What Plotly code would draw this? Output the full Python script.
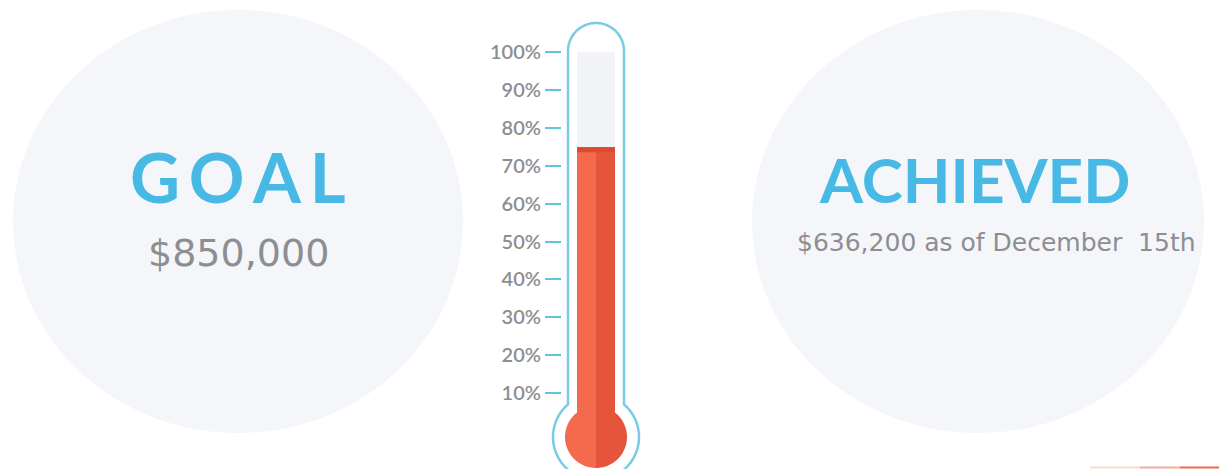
import math
import plotly.graph_objects as go

# ---------------- data ----------------
goal_amount = 850000
achieved_amount = 636200
achieved_date = "December  15th"
tick_values = [10, 20, 30, 40, 50, 60, 70, 80, 90, 100]
tick_labels = ["10%", "20%", "30%", "40%", "50%", "60%", "70%", "80%", "90%", "100%"]
fill_pct = achieved_amount / goal_amount * 100

# ---------------- layout helpers ----------------
W, H = 1219, 469


def px(x):
    return x / W


def py(y):
    return 1 - y / H


def path_from(points, close=True):
    s = "M " + " L ".join(f"{px(x):.5f},{py(y):.5f}" for x, y in points)
    return s + (" Z" if close else "")


def arc(cx, cy, r, a0, a1, n=60):
    pts = []
    for i in range(n + 1):
        a = math.radians(a0 + (a1 - a0) * i / n)
        pts.append((cx + r * math.cos(a), cy + r * math.sin(a)))
    return pts


BLUE = "#47b9e4"
OUTLINE = "#7ccbe4"
TICK = "#62c3df"
GRAY_TXT = "#8d8e92"
CIRCLE = "#f4f6f9"
TUBE_BG = "#f2f4f8"
RED_L = "#f36a4c"
RED_D = "#e4553b"
RED_CAP = "#dd4a33"

fig = go.Figure()

# thermometer fill (two halves for shading)
fig.add_trace(go.Bar(x=[0.5], y=[fill_pct], width=[1.0], marker=dict(color=RED_L, line=dict(width=0)),
                     hoverinfo="skip", showlegend=False))
fig.add_trace(go.Bar(x=[1.5], y=[fill_pct], width=[1.0], marker=dict(color=RED_D, line=dict(width=0)),
                     hoverinfo="skip", showlegend=False))

shapes = []
# background circles
shapes.append(dict(type="circle", xref="paper", yref="paper", x0=px(13), x1=px(463), y0=py(433), y1=py(10),
                   fillcolor=CIRCLE, line=dict(width=0), layer="below"))
shapes.append(dict(type="circle", xref="paper", yref="paper", x0=px(752), x1=px(1204), y0=py(433), y1=py(10),
                   fillcolor=CIRCLE, line=dict(width=0), layer="below"))

# thermometer outline
cx, tube_r, top_cy = 596, 28, 51
bulb_cy, bulb_R = 437, 43
dy = math.sqrt(bulb_R ** 2 - tube_r ** 2)
join_y = bulb_cy - dy
ang = math.degrees(math.atan2(-dy, -tube_r))
pts = [(cx - tube_r, join_y), (cx - tube_r, top_cy)]
pts += arc(cx, top_cy, tube_r, 180, 360)
pts += [(cx + tube_r, join_y)]
ang_r = math.degrees(math.atan2(-dy, tube_r))
pts += arc(cx, bulb_cy, bulb_R, ang_r, ang + 360)
shapes.append(dict(type="path", xref="paper", yref="paper", path=path_from(pts),
                   fillcolor="white", line=dict(color=OUTLINE, width=2.5), layer="below"))
# inner tube background
shapes.append(dict(type="rect", xref="x", yref="y", x0=0, x1=2, y0=0, y1=100,
                   fillcolor=TUBE_BG, line=dict(width=0), layer="below"))
# dark cap on top of fill
shapes.append(dict(type="rect", xref="x", yref="y", x0=0, x1=2, y0=fill_pct - 1.3, y1=fill_pct,
                   fillcolor=RED_CAP, line=dict(width=0), layer="above"))
# red bulb (two halves)
br, bcy = 31, 437
shapes.append(dict(type="path", xref="paper", yref="paper", path=path_from(arc(cx, bcy, br, 90, 270)),
                   fillcolor=RED_L, line=dict(width=0), layer="above"))
shapes.append(dict(type="path", xref="paper", yref="paper", path=path_from(arc(cx, bcy, br, -90, 90)),
                   fillcolor=RED_D, line=dict(width=0), layer="above"))
# bottom accent line (fading to the left)
for x0, x1, op in [(1090, 1140, 0.25), (1140, 1180, 0.55), (1180, 1219, 1.0)]:
    shapes.append(dict(type="line", xref="paper", yref="paper", x0=px(x0), x1=px(x1), y0=py(467.5), y1=py(467.5),
                       line=dict(color="#ef6a4c", width=2), opacity=op))

TS = "\u2009"
annotations = [
    dict(text="<b>" + TS.join("GOAL") + "</b>", x=px(238), y=py(176), xref="paper", yref="paper", showarrow=False,
         font=dict(family="Lato", size=69, color=BLUE, weight=900), xanchor="center", yanchor="middle"),
    dict(text=f"${goal_amount:,}", x=px(238), y=py(253), xref="paper", yref="paper", showarrow=False,
         font=dict(family="DejaVu Sans", size=38, color=GRAY_TXT), xanchor="center", yanchor="middle"),
    dict(text="<b>ACHIEVED</b>", x=px(974), y=py(179), xref="paper", yref="paper", showarrow=False,
         font=dict(family="Lato", size=62, color=BLUE, weight=900), xanchor="center", yanchor="middle"),
    dict(text=f"${achieved_amount:,} as of {achieved_date}".replace("  ", "&nbsp; "), x=px(795), y=py(243),
         xref="paper", yref="paper", showarrow=False,
         font=dict(family="DejaVu Sans", size=25, color=GRAY_TXT), xanchor="left", yanchor="middle"),
]

fig.update_layout(
    width=W, height=H,
    margin=dict(l=0, r=0, t=0, b=0, pad=0),
    paper_bgcolor="white", plot_bgcolor="rgba(0,0,0,0)",
    bargap=0,
    shapes=shapes,
    annotations=annotations,
    xaxis=dict(domain=[px(577), px(615)], range=[0, 2], visible=False, fixedrange=True, automargin=False),
    yaxis=dict(domain=[py(431), py(52)], range=[0, 100], anchor="free", position=px(561),
               tickvals=tick_values, ticktext=tick_labels, ticks="outside", ticklen=16, tickwidth=2,
               tickcolor=TICK, showgrid=False, zeroline=False, showline=False, automargin=False,
               tickfont=dict(family="Lato", size=20, color=GRAY_TXT, weight=600), fixedrange=True),
    showlegend=False,
)

fig.write_html("out.html", post_script="document.body.style.margin='0';", config={"displayModeBar": False})
